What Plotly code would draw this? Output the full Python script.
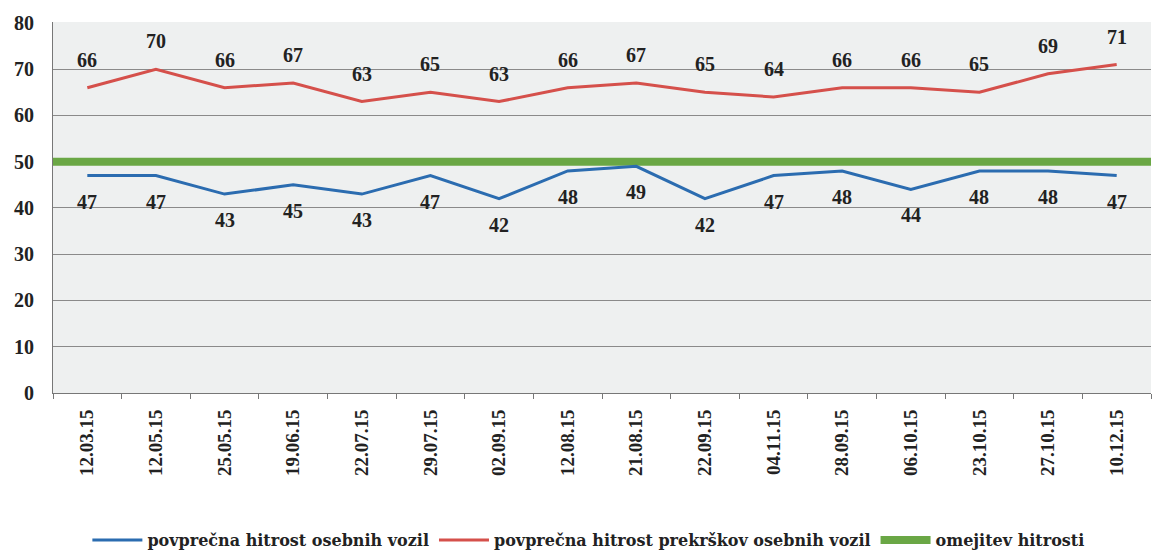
import plotly.graph_objects as go

dates = ["12.03.15", "12.05.15", "25.05.15", "19.06.15", "22.07.15", "29.07.15",
         "02.09.15", "12.08.15", "21.08.15", "22.09.15", "04.11.15", "28.09.15",
         "06.10.15", "23.10.15", "27.10.15", "10.12.15"]
avg_speed = [47, 47, 43, 45, 43, 47, 42, 48, 49, 42, 47, 48, 44, 48, 48, 47]
avg_offence_speed = [66, 70, 66, 67, 63, 65, 63, 66, 67, 65, 64, 66, 66, 65, 69, 71]
speed_limit = 50

names = ["povprečna hitrost osebnih vozil",
         "povprečna hitrost prekrškov osebnih vozil",
         "omejitev hitrosti"]

BLUE = "#2b6cb0"
RED = "#d5504b"
GREEN = "#6aa745"
FONT = "Liberation Serif"

idx = list(range(len(dates)))

fig = go.Figure()
# limit line spans the whole plot width, drawn first so the others sit on top
fig.add_trace(go.Scatter(x=[-0.5, len(dates) - 0.5], y=[speed_limit, speed_limit],
                         mode="lines", name=f"<b>{names[2]}</b>", legendrank=3,
                         line=dict(color=GREEN, width=8)))
fig.add_trace(go.Scatter(x=idx, y=avg_speed, mode="lines", name=f"<b>{names[0]}</b>",
                         legendrank=1, line=dict(color=BLUE, width=3)))
fig.add_trace(go.Scatter(x=idx, y=avg_offence_speed, mode="lines", name=f"<b>{names[1]}</b>",
                         legendrank=2, line=dict(color=RED, width=3)))

# data labels
for i, v in enumerate(avg_speed):
    fig.add_annotation(x=i, y=v, text=f"<b>{v}</b>", showarrow=False, yshift=-26,
                       font=dict(family=FONT, size=20, color="#222"))
for i, v in enumerate(avg_offence_speed):
    fig.add_annotation(x=i, y=v, text=f"<b>{v}</b>", showarrow=False, yshift=28,
                       font=dict(family=FONT, size=20, color="#222"))

fig.update_layout(
    width=1165, height=554,
    margin=dict(l=53, r=14, t=22, b=161),
    paper_bgcolor="white",
    plot_bgcolor="#eef0f0",
    font=dict(family=FONT, size=16, color="#222"),
    showlegend=True,
    legend=dict(orientation="h", xref="container", yref="container",
                x=0.075, xanchor="left", y=0.025, yanchor="middle",
                traceorder="normal",
                font=dict(family="DejaVu Serif", size=16, color="#222"),
                itemwidth=50),
)
fig.update_xaxes(
    range=[-0.5, len(dates) - 0.5],
    tickvals=idx,
    ticktext=[f"<b>{d}</b>" for d in dates],
    tickangle=-90,
    showgrid=False,
    showline=True, linecolor="#777", linewidth=1,
    ticks="", tickfont=dict(family=FONT, size=19),
    ticklabelstandoff=8,
    minor=dict(tickvals=[i - 0.5 for i in idx] + [len(dates) - 0.5],
               ticks="outside", ticklen=5, tickcolor="#777"),
    zeroline=False,
)
fig.update_yaxes(
    range=[0, 80.2],
    tickvals=list(range(0, 90, 10)),
    ticktext=[f"<b>{v}</b>" for v in range(0, 90, 10)],
    showgrid=True, gridcolor="#8a8a8a", gridwidth=1,
    showline=True, linecolor="#777", linewidth=1,
    zeroline=False,
    ticklabelstandoff=14,
    tickfont=dict(family=FONT, size=20),
)

# drop the default body margin so the figure fills the window exactly
fig.write_html("out.html", config={"displayModeBar": False},
               post_script="document.body.style.margin='0';")
